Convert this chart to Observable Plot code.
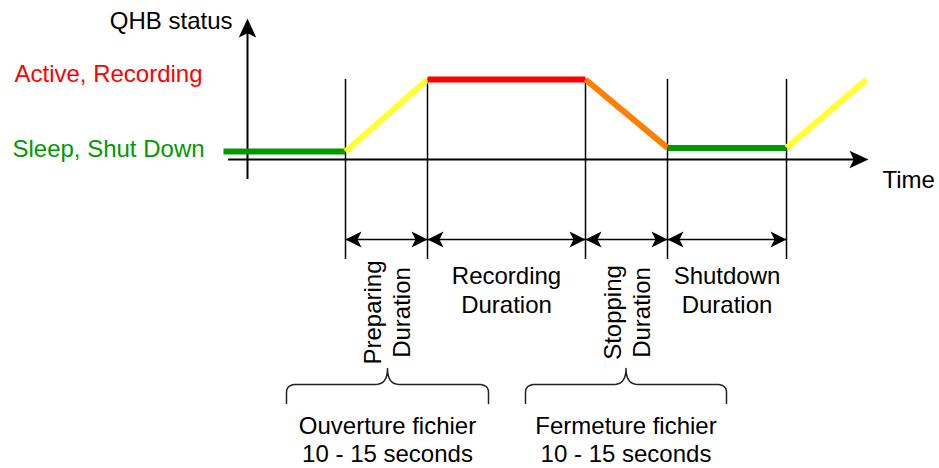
<!DOCTYPE html>
<html>
<head>
<meta charset="utf-8">
<script src="https://cdn.jsdelivr.net/npm/d3@7"></script>
<script src="https://cdn.jsdelivr.net/npm/@observablehq/plot@0.6"></script>
<style>
  html, body { margin: 0; padding: 0; background: #fff; }
  svg { display: block; }
</style>
</head>
<body>
<script>
// ---- Data (time in arbitrary units, status level 0 = sleep, 1 = active) ----
const statusTime  = [-2.4, 9.8, 18.0, 33.8, 42.0, 53.9, 61.9];
const statusLevel = [0, 0, 1, 1, 0.05, 0.05, 1];
const segmentColor = ["#009900", "#ffff33", "#ff0000", "#ff8000", "#009900", "#ffff33"];

const levelNames  = ["Sleep, Shut Down", "Active, Recording"];
const levelValues = [0, 1];
const levelColors = ["#009900", "#ff0000"];

const phaseBounds = [9.8, 18.0, 33.8, 42.0, 53.9];
const phaseLabels = ["Preparing\nDuration", "Recording\nDuration", "Stopping\nDuration", "Shutdown\nDuration"];
const phaseRotated = [true, false, true, false];

const braceStart = [3.9, 27.8];
const braceEnd   = [24.1, 47.9];
const braceTip   = [14.0, 37.85];
const braceLabels = ["Ouverture fichier\n10 - 15 seconds", "Fermeture fichier\n10 - 15 seconds"];

const axisYLabel = "QHB status";
const axisXLabel = "Time";

// ---- Layout (scale units) ----
const X_UNIT_PX = 10, Y_UNIT_PX = 72;
const AXIS_X_LEVEL = -0.111, AXIS_X_START = -1.9, AXIS_X_END = 62.1;
const AXIS_Y_BOTTOM = -0.389, AXIS_Y_TOP = 1.847;
const RULE_TOP = 1.0, RULE_BOTTOM = -1.5;
const DIM_LEVEL = -1.222;
const ROT_TEXT_LEVEL = -2.236, HOR_TEXT_LEVEL = -1.917;
const BRACE_H = -3.236, BRACE_END = -3.5, BRACE_TIP = -3.014, BRACE_TEXT = -3.993;

// ---- Derived tables ----
const segments = segmentColor.map((c, i) => ({
  t1: statusTime[i], l1: statusLevel[i], t2: statusTime[i + 1], l2: statusLevel[i + 1], c
}));
const phases = phaseLabels.map((label, i) => ({
  a: phaseBounds[i], b: phaseBounds[i + 1], mid: (phaseBounds[i] + phaseBounds[i + 1]) / 2,
  label, rotated: phaseRotated[i]
}));
const dimHeads = phases.flatMap(p => [{t: p.a, rot: -90}, {t: p.b, rot: 90}]);

// brace geometry
function quad(p0, p1, p2, n = 10) {
  const out = [];
  for (let k = 0; k <= n; k++) {
    const u = k / n;
    out.push([
      (1 - u) * (1 - u) * p0[0] + 2 * (1 - u) * u * p1[0] + u * u * p2[0],
      (1 - u) * (1 - u) * p0[1] + 2 * (1 - u) * u * p1[1] + u * u * p2[1]
    ]);
  }
  return out;
}
const rx = 10 / X_UNIT_PX, ry = 8 / Y_UNIT_PX, tx = 12 / X_UNIT_PX;
const bracePts = braceStart.flatMap((x1, i) => {
  const x2 = braceEnd[i], xc = braceTip[i];
  const pts = [
    [x1, BRACE_END],
    ...quad([x1, BRACE_H - ry], [x1, BRACE_H], [x1 + rx, BRACE_H]),
    ...quad([xc - tx, BRACE_H], [xc, BRACE_H], [xc, BRACE_TIP]),
    ...quad([xc, BRACE_TIP], [xc, BRACE_H], [xc + tx, BRACE_H]),
    ...quad([x2 - rx, BRACE_H], [x2, BRACE_H], [x2, BRACE_H - ry]),
    [x2, BRACE_END]
  ];
  return pts.map(([x, y]) => ({x, y, z: i}));
});
const braces = braceLabels.map((label, i) => ({x: braceTip[i], label}));

// filled "classic" arrowhead symbol, tip at origin pointing up; length = r
function arrowHead(halfWidth, notch) {
  return {
    draw(ctx, size) {
      const L = Math.sqrt(size / Math.PI);
      const w = halfWidth * L;
      ctx.moveTo(0, 0);
      ctx.lineTo(w, L);
      ctx.lineTo(0, notch * L);
      ctx.lineTo(-w, L);
      ctx.closePath();
    }
  };
}
const axisHead = arrowHead(0.46, 0.78);
const dimHead = arrowHead(0.5, 0.75);

const FONT = "'Liberation Sans', Arial, Helvetica, sans-serif";
const INK = "#000";
const thin = 1.5;

const chart = Plot.plot({
  width: 939,
  height: 468,
  margin: 0,
  x: {domain: [-24.7, 69.2], axis: null},
  y: {domain: [-4.403, 2.097], axis: null},
  style: {fontFamily: FONT, background: "#fff", overflow: "visible"},
  marks: [
    // vertical phase boundaries
    Plot.ruleX(phaseBounds, {x: d => d, y1: RULE_BOTTOM, y2: RULE_TOP, stroke: INK, strokeWidth: thin}),
    // axes
    Plot.ruleY([AXIS_X_LEVEL], {y: d => d, x1: AXIS_X_START, x2: AXIS_X_END - 1.2, stroke: INK, strokeWidth: 2}),
    Plot.ruleX([0], {x: d => d, y1: AXIS_Y_BOTTOM, y2: AXIS_Y_TOP - 0.15, stroke: INK, strokeWidth: 2}),
    Plot.dot([0], {x: AXIS_X_END, y: AXIS_X_LEVEL, r: 19, symbol: axisHead, rotate: 90, fill: INK, stroke: null}),
    Plot.dot([0], {x: 0, y: AXIS_Y_TOP, r: 19, symbol: axisHead, rotate: 0, fill: INK, stroke: null}),
    // status line
    Plot.link(segments, {x1: "t1", y1: "l1", x2: "t2", y2: "l2", stroke: "c", strokeWidth: 6, strokeLinecap: "butt"}),
    // dimension lines
    Plot.link(phases, {x1: "a", x2: "b", y1: DIM_LEVEL, y2: DIM_LEVEL, stroke: INK, strokeWidth: thin}),
    Plot.dot(dimHeads, {x: "t", y: DIM_LEVEL, r: 16, symbol: dimHead, rotate: "rot", fill: INK, stroke: null}),
    // phase labels
    Plot.text(phases.filter(p => p.rotated), {x: "mid", y: ROT_TEXT_LEVEL, text: "label", rotate: -90,
      fontSize: 24, lineHeight: 1.2, fill: INK, textAnchor: "middle", lineAnchor: "middle"}),
    Plot.text(phases.filter(p => !p.rotated), {x: "mid", y: HOR_TEXT_LEVEL, text: "label",
      fontSize: 24, lineHeight: 1.2, fill: INK, textAnchor: "middle", lineAnchor: "middle"}),
    // braces
    Plot.line(bracePts, {x: "x", y: "y", z: "z", stroke: "#222", strokeWidth: thin, curve: "linear"}),
    Plot.text(braces, {x: "x", y: BRACE_TEXT, text: "label", fontSize: 24, lineHeight: 1.17,
      fill: INK, textAnchor: "middle", lineAnchor: "middle"}),
    // level labels
    Plot.text([0], {x: -13.9, y: levelValues[0], text: () => levelNames[0], fill: levelColors[0], fontSize: 24, dy: -2, textAnchor: "middle"}),
    Plot.text([0], {x: -13.9, y: levelValues[1], text: () => levelNames[1], fill: levelColors[1], fontSize: 24, dy: -5, textAnchor: "middle"}),
    // axis labels
    Plot.text([axisYLabel], {x: -1.5, y: 1.808, text: d => d, fontSize: 24, fill: INK, textAnchor: "end"}),
    Plot.text([axisXLabel], {x: 63.5, y: -0.394, text: d => d, fontSize: 24, fill: INK, textAnchor: "start"})
  ]
});
document.body.appendChild(chart);
</script>
</body>
</html>
